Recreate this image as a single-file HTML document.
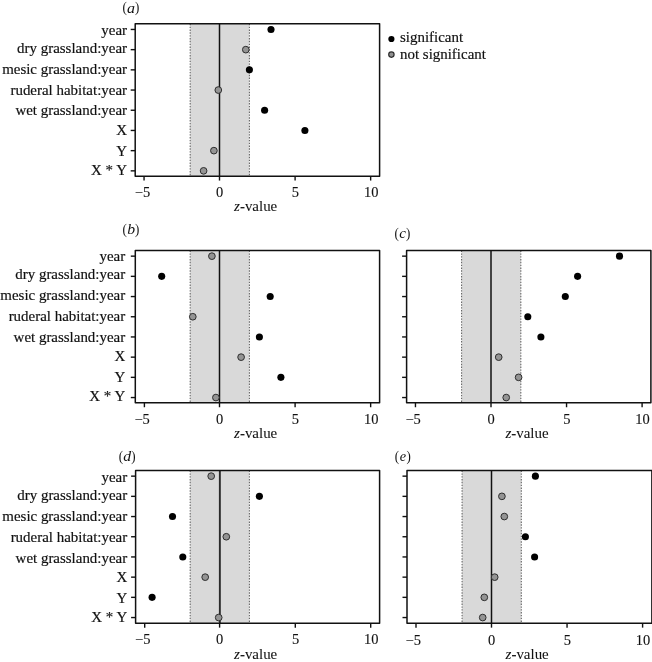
<!DOCTYPE html>
<html><head><meta charset="utf-8"><title>Figure</title>
<style>
html,body{margin:0;padding:0;background:#fff;}
svg{display:block;}
text{font-family:"Liberation Serif","Times New Roman",serif;font-size:14.95px;fill:#111;stroke:#111;stroke-width:0.18px;}
.it{font-style:italic;}
.ttl{font-size:14.3px;stroke-width:0.1px;}
.pr{font-size:13px;}
.num{font-size:14.2px;stroke-width:0.12px;}
</style></head><body>
<svg width="652" height="662" viewBox="0 0 652 662">
<rect width="652" height="662" fill="#fff"/>

<g id="panel-a">
<rect x="190.18" y="23.85" width="59.23" height="152.3" fill="#d9d9d9"/>
<line x1="190.18" y1="23.85" x2="190.18" y2="176.15" stroke="#666" stroke-width="1.1" stroke-dasharray="1.4 1.43"/>
<line x1="249.42" y1="23.85" x2="249.42" y2="176.15" stroke="#666" stroke-width="1.1" stroke-dasharray="1.4 1.43"/>
<line x1="219.50" y1="23.85" x2="219.50" y2="176.15" stroke="#111" stroke-width="1.5"/>
<line x1="130.70" y1="29.45" x2="135.2" y2="29.45" stroke="#111" stroke-width="1.4"/>
<text x="127.0" y="34.90" text-anchor="end">year</text>
<line x1="130.70" y1="49.65" x2="135.2" y2="49.65" stroke="#111" stroke-width="1.4"/>
<text x="127.0" y="53.00" text-anchor="end">dry grassland:year</text>
<line x1="130.70" y1="69.85" x2="135.2" y2="69.85" stroke="#111" stroke-width="1.4"/>
<text x="127.0" y="73.95" text-anchor="end">mesic grassland:year</text>
<line x1="130.70" y1="90.05" x2="135.2" y2="90.05" stroke="#111" stroke-width="1.4"/>
<text x="127.0" y="94.90" text-anchor="end">ruderal habitat:year</text>
<line x1="130.70" y1="110.25" x2="135.2" y2="110.25" stroke="#111" stroke-width="1.4"/>
<text x="127.0" y="115.45" text-anchor="end">wet grassland:year</text>
<line x1="130.70" y1="130.45" x2="135.2" y2="130.45" stroke="#111" stroke-width="1.4"/>
<text x="127.0" y="134.80" text-anchor="end">X</text>
<line x1="130.70" y1="150.65" x2="135.2" y2="150.65" stroke="#111" stroke-width="1.4"/>
<text x="127.0" y="155.50" text-anchor="end">Y</text>
<line x1="130.70" y1="170.85" x2="135.2" y2="170.85" stroke="#111" stroke-width="1.4"/>
<text x="127.0" y="175.35" text-anchor="end">X * Y</text>
<line x1="144.05" y1="176.15" x2="144.05" y2="180.55" stroke="#111" stroke-width="1.4"/>
<text class="num" transform="translate(142.45 197.15) scale(1.02 1)" text-anchor="middle">−5</text>
<line x1="219.50" y1="176.15" x2="219.50" y2="180.55" stroke="#111" stroke-width="1.4"/>
<text class="num" transform="translate(219.50 197.15) scale(1.02 1)" text-anchor="middle">0</text>
<line x1="295.10" y1="176.15" x2="295.10" y2="180.55" stroke="#111" stroke-width="1.4"/>
<text class="num" transform="translate(295.30 197.15) scale(1.02 1)" text-anchor="middle">5</text>
<line x1="370.65" y1="176.15" x2="370.65" y2="180.55" stroke="#111" stroke-width="1.4"/>
<text class="num" transform="translate(371.15 197.15) scale(1.02 1)" text-anchor="middle">10</text>
<text x="234.10" y="211.40" style="stroke-width:0.06px"><tspan class="it">z</tspan>-value</text>
<rect x="135.2" y="23.85" width="244.40" height="152.3" fill="none" stroke="#111" stroke-width="1.5" stroke-linejoin="round"/>
<circle cx="271.00" cy="29.45" r="3.55" fill="#000"/>
<circle cx="245.80" cy="49.65" r="3.35" fill="#949494" stroke="#2e2e2e" stroke-width="1"/>
<circle cx="249.40" cy="69.85" r="3.55" fill="#000"/>
<circle cx="218.30" cy="90.05" r="3.35" fill="#949494" stroke="#2e2e2e" stroke-width="1"/>
<circle cx="264.60" cy="110.25" r="3.55" fill="#000"/>
<circle cx="304.90" cy="130.45" r="3.55" fill="#000"/>
<circle cx="213.90" cy="150.65" r="3.35" fill="#949494" stroke="#2e2e2e" stroke-width="1"/>
<circle cx="203.60" cy="170.85" r="3.35" fill="#949494" stroke="#2e2e2e" stroke-width="1"/>
<text transform="translate(122.60 11.78) scale(1.0 1.095)" font-size="13" style="font-size:13px;stroke:none">(</text>
<text transform="translate(126.98 13.05) scale(1.12 1.0)" font-size="14.3" font-style="italic" style="font-size:14.3px;stroke:none">a</text>
<text transform="translate(134.97 11.84) scale(1.0 1.095)" font-size="13" style="font-size:13px;stroke:none">)</text>
</g>
<g id="panel-b">
<rect x="190.18" y="250.55" width="59.23" height="152.3" fill="#d9d9d9"/>
<line x1="190.18" y1="250.55" x2="190.18" y2="402.85" stroke="#666" stroke-width="1.1" stroke-dasharray="1.4 1.43"/>
<line x1="249.42" y1="250.55" x2="249.42" y2="402.85" stroke="#666" stroke-width="1.1" stroke-dasharray="1.4 1.43"/>
<line x1="219.50" y1="250.55" x2="219.50" y2="402.85" stroke="#111" stroke-width="1.5"/>
<line x1="130.80" y1="256.15" x2="135.3" y2="256.15" stroke="#111" stroke-width="1.4"/>
<text x="125.2" y="261.15" text-anchor="end">year</text>
<line x1="130.80" y1="276.35" x2="135.3" y2="276.35" stroke="#111" stroke-width="1.4"/>
<text x="125.2" y="279.15" text-anchor="end">dry grassland:year</text>
<line x1="130.80" y1="296.55" x2="135.3" y2="296.55" stroke="#111" stroke-width="1.4"/>
<text x="125.2" y="300.10" text-anchor="end">mesic grassland:year</text>
<line x1="130.80" y1="316.75" x2="135.3" y2="316.75" stroke="#111" stroke-width="1.4"/>
<text x="125.2" y="321.15" text-anchor="end">ruderal habitat:year</text>
<line x1="130.80" y1="336.95" x2="135.3" y2="336.95" stroke="#111" stroke-width="1.4"/>
<text x="125.2" y="341.70" text-anchor="end">wet grassland:year</text>
<line x1="130.80" y1="357.15" x2="135.3" y2="357.15" stroke="#111" stroke-width="1.4"/>
<text x="125.2" y="361.30" text-anchor="end">X</text>
<line x1="130.80" y1="377.35" x2="135.3" y2="377.35" stroke="#111" stroke-width="1.4"/>
<text x="125.2" y="381.75" text-anchor="end">Y</text>
<line x1="130.80" y1="397.55" x2="135.3" y2="397.55" stroke="#111" stroke-width="1.4"/>
<text x="125.2" y="400.85" text-anchor="end">X * Y</text>
<line x1="144.40" y1="402.85" x2="144.40" y2="407.25" stroke="#111" stroke-width="1.4"/>
<text class="num" transform="translate(142.10 423.85) scale(1.02 1)" text-anchor="middle">−5</text>
<line x1="219.50" y1="402.85" x2="219.50" y2="407.25" stroke="#111" stroke-width="1.4"/>
<text class="num" transform="translate(219.50 423.85) scale(1.02 1)" text-anchor="middle">0</text>
<line x1="295.10" y1="402.85" x2="295.10" y2="407.25" stroke="#111" stroke-width="1.4"/>
<text class="num" transform="translate(295.30 423.85) scale(1.02 1)" text-anchor="middle">5</text>
<line x1="370.65" y1="402.85" x2="370.65" y2="407.25" stroke="#111" stroke-width="1.4"/>
<text class="num" transform="translate(371.15 423.85) scale(1.02 1)" text-anchor="middle">10</text>
<text x="234.10" y="438.30" style="stroke-width:0.06px"><tspan class="it">z</tspan>-value</text>
<rect x="135.3" y="250.55" width="244.30" height="152.3" fill="none" stroke="#111" stroke-width="1.5" stroke-linejoin="round"/>
<circle cx="211.90" cy="256.15" r="3.35" fill="#949494" stroke="#2e2e2e" stroke-width="1"/>
<circle cx="161.70" cy="276.35" r="3.55" fill="#000"/>
<circle cx="270.20" cy="296.55" r="3.55" fill="#000"/>
<circle cx="192.80" cy="316.75" r="3.35" fill="#949494" stroke="#2e2e2e" stroke-width="1"/>
<circle cx="259.40" cy="336.95" r="3.55" fill="#000"/>
<circle cx="241.10" cy="357.15" r="3.35" fill="#949494" stroke="#2e2e2e" stroke-width="1"/>
<circle cx="280.90" cy="377.35" r="3.55" fill="#000"/>
<circle cx="215.90" cy="397.55" r="3.35" fill="#949494" stroke="#2e2e2e" stroke-width="1"/>
<text transform="translate(122.60 233.62) scale(1.0 1.095)" font-size="13" style="font-size:13px;stroke:none">(</text>
<text transform="translate(127.34 233.72) scale(1.1 1.0)" font-size="14.3" font-style="italic" style="font-size:14.3px;stroke:none">b</text>
<text transform="translate(134.97 233.69) scale(1.0 1.095)" font-size="13" style="font-size:13px;stroke:none">)</text>
</g>
<g id="panel-d">
<rect x="190.18" y="470.55" width="59.23" height="152.7" fill="#d9d9d9"/>
<line x1="190.18" y1="470.55" x2="190.18" y2="623.25" stroke="#666" stroke-width="1.1" stroke-dasharray="1.4 1.43"/>
<line x1="249.42" y1="470.55" x2="249.42" y2="623.25" stroke="#666" stroke-width="1.1" stroke-dasharray="1.4 1.43"/>
<line x1="219.85" y1="470.55" x2="219.85" y2="623.25" stroke="#2a2a2a" stroke-width="1.9"/>
<line x1="131.10" y1="476.15" x2="135.6" y2="476.15" stroke="#111" stroke-width="1.4"/>
<text x="127.2" y="482.25" text-anchor="end">year</text>
<line x1="131.10" y1="496.35" x2="135.6" y2="496.35" stroke="#111" stroke-width="1.4"/>
<text x="127.2" y="500.40" text-anchor="end">dry grassland:year</text>
<line x1="131.10" y1="516.55" x2="135.6" y2="516.55" stroke="#111" stroke-width="1.4"/>
<text x="127.2" y="521.45" text-anchor="end">mesic grassland:year</text>
<line x1="131.10" y1="536.75" x2="135.6" y2="536.75" stroke="#111" stroke-width="1.4"/>
<text x="127.2" y="542.00" text-anchor="end">ruderal habitat:year</text>
<line x1="131.10" y1="556.95" x2="135.6" y2="556.95" stroke="#111" stroke-width="1.4"/>
<text x="127.2" y="562.80" text-anchor="end">wet grassland:year</text>
<line x1="131.10" y1="577.15" x2="135.6" y2="577.15" stroke="#111" stroke-width="1.4"/>
<text x="127.2" y="582.40" text-anchor="end">X</text>
<line x1="131.10" y1="597.35" x2="135.6" y2="597.35" stroke="#111" stroke-width="1.4"/>
<text x="127.2" y="602.60" text-anchor="end">Y</text>
<line x1="131.10" y1="617.55" x2="135.6" y2="617.55" stroke="#111" stroke-width="1.4"/>
<text x="127.2" y="621.60" text-anchor="end">X * Y</text>
<line x1="144.70" y1="623.25" x2="144.70" y2="627.65" stroke="#111" stroke-width="1.4"/>
<text class="num" transform="translate(142.70 644.35) scale(1.02 1)" text-anchor="middle">−5</text>
<line x1="219.60" y1="623.25" x2="219.60" y2="627.65" stroke="#111" stroke-width="1.4"/>
<text class="num" transform="translate(219.60 644.35) scale(1.02 1)" text-anchor="middle">0</text>
<line x1="295.30" y1="623.25" x2="295.30" y2="627.65" stroke="#111" stroke-width="1.4"/>
<text class="num" transform="translate(295.50 644.35) scale(1.02 1)" text-anchor="middle">5</text>
<line x1="370.70" y1="623.25" x2="370.70" y2="627.65" stroke="#111" stroke-width="1.4"/>
<text class="num" transform="translate(371.20 644.35) scale(1.02 1)" text-anchor="middle">10</text>
<text x="234.10" y="658.60" style="stroke-width:0.06px"><tspan class="it">z</tspan>-value</text>
<rect x="135.6" y="470.55" width="244.00" height="152.7" fill="none" stroke="#111" stroke-width="1.5" stroke-linejoin="round"/>
<circle cx="211.20" cy="476.15" r="3.35" fill="#949494" stroke="#2e2e2e" stroke-width="1"/>
<circle cx="259.40" cy="496.35" r="3.55" fill="#000"/>
<circle cx="172.50" cy="516.55" r="3.55" fill="#000"/>
<circle cx="226.30" cy="536.75" r="3.35" fill="#949494" stroke="#2e2e2e" stroke-width="1"/>
<circle cx="182.80" cy="556.95" r="3.55" fill="#000"/>
<circle cx="205.20" cy="577.15" r="3.35" fill="#949494" stroke="#2e2e2e" stroke-width="1"/>
<circle cx="152.10" cy="597.35" r="3.55" fill="#000"/>
<circle cx="218.70" cy="617.55" r="3.35" fill="#949494" stroke="#2e2e2e" stroke-width="1"/>
<text transform="translate(118.70 460.57) scale(1.0 1.095)" font-size="13" style="font-size:13px;stroke:none">(</text>
<text transform="translate(123.31 460.85) scale(1.1 1.075)" font-size="14.3" font-style="italic" style="font-size:14.3px;stroke:none">d</text>
<text transform="translate(131.28 460.64) scale(1.0 1.095)" font-size="13" style="font-size:13px;stroke:none">)</text>
</g>
<g id="panel-c">
<rect x="461.58" y="250.55" width="59.23" height="152.3" fill="#d9d9d9"/>
<line x1="461.58" y1="250.55" x2="461.58" y2="402.85" stroke="#666" stroke-width="1.1" stroke-dasharray="1.4 1.43"/>
<line x1="520.82" y1="250.55" x2="520.82" y2="402.85" stroke="#666" stroke-width="1.1" stroke-dasharray="1.4 1.43"/>
<line x1="491.00" y1="250.55" x2="491.00" y2="402.85" stroke="#111" stroke-width="1.5"/>
<line x1="402.10" y1="256.15" x2="406.6" y2="256.15" stroke="#111" stroke-width="1.4"/>
<line x1="402.10" y1="276.35" x2="406.6" y2="276.35" stroke="#111" stroke-width="1.4"/>
<line x1="402.10" y1="296.55" x2="406.6" y2="296.55" stroke="#111" stroke-width="1.4"/>
<line x1="402.10" y1="316.75" x2="406.6" y2="316.75" stroke="#111" stroke-width="1.4"/>
<line x1="402.10" y1="336.95" x2="406.6" y2="336.95" stroke="#111" stroke-width="1.4"/>
<line x1="402.10" y1="357.15" x2="406.6" y2="357.15" stroke="#111" stroke-width="1.4"/>
<line x1="402.10" y1="377.35" x2="406.6" y2="377.35" stroke="#111" stroke-width="1.4"/>
<line x1="402.10" y1="397.55" x2="406.6" y2="397.55" stroke="#111" stroke-width="1.4"/>
<line x1="415.45" y1="402.85" x2="415.45" y2="407.25" stroke="#111" stroke-width="1.4"/>
<text class="num" transform="translate(413.15 423.85) scale(1.02 1)" text-anchor="middle">−5</text>
<line x1="491.00" y1="402.85" x2="491.00" y2="407.25" stroke="#111" stroke-width="1.4"/>
<text class="num" transform="translate(491.20 423.85) scale(1.02 1)" text-anchor="middle">0</text>
<line x1="566.55" y1="402.85" x2="566.55" y2="407.25" stroke="#111" stroke-width="1.4"/>
<text class="num" transform="translate(566.75 423.85) scale(1.02 1)" text-anchor="middle">5</text>
<line x1="642.10" y1="402.85" x2="642.10" y2="407.25" stroke="#111" stroke-width="1.4"/>
<text class="num" transform="translate(642.40 423.85) scale(1.02 1)" text-anchor="middle">10</text>
<text x="505.40" y="438.30" style="stroke-width:0.06px"><tspan class="it">z</tspan>-value</text>
<rect x="406.6" y="250.55" width="244.30" height="152.3" fill="none" stroke="#111" stroke-width="1.5" stroke-linejoin="round"/>
<circle cx="619.50" cy="256.15" r="3.55" fill="#000"/>
<circle cx="577.60" cy="276.35" r="3.55" fill="#000"/>
<circle cx="565.30" cy="296.55" r="3.55" fill="#000"/>
<circle cx="527.80" cy="316.75" r="3.55" fill="#000"/>
<circle cx="540.90" cy="336.95" r="3.55" fill="#000"/>
<circle cx="498.70" cy="357.15" r="3.35" fill="#949494" stroke="#2e2e2e" stroke-width="1"/>
<circle cx="518.60" cy="377.35" r="3.35" fill="#949494" stroke="#2e2e2e" stroke-width="1"/>
<circle cx="506.20" cy="397.55" r="3.35" fill="#949494" stroke="#2e2e2e" stroke-width="1"/>
<text transform="translate(394.60 237.82) scale(1.0 1.095)" font-size="13" style="font-size:13px;stroke:none">(</text>
<text transform="translate(399.14 238.32) scale(1.05 1.03)" font-size="14.3" font-style="italic" style="font-size:14.3px;stroke:none">c</text>
<text transform="translate(406.07 237.89) scale(1.0 1.095)" font-size="13" style="font-size:13px;stroke:none">)</text>
</g>
<g id="panel-e">
<rect x="462.08" y="470.55" width="59.23" height="152.7" fill="#d9d9d9"/>
<line x1="462.08" y1="470.55" x2="462.08" y2="623.25" stroke="#666" stroke-width="1.1" stroke-dasharray="1.4 1.43"/>
<line x1="521.32" y1="470.55" x2="521.32" y2="623.25" stroke="#666" stroke-width="1.1" stroke-dasharray="1.4 1.43"/>
<line x1="491.50" y1="470.55" x2="491.50" y2="623.25" stroke="#111" stroke-width="1.5"/>
<line x1="402.50" y1="476.15" x2="407.0" y2="476.15" stroke="#111" stroke-width="1.4"/>
<line x1="402.50" y1="496.35" x2="407.0" y2="496.35" stroke="#111" stroke-width="1.4"/>
<line x1="402.50" y1="516.55" x2="407.0" y2="516.55" stroke="#111" stroke-width="1.4"/>
<line x1="402.50" y1="536.75" x2="407.0" y2="536.75" stroke="#111" stroke-width="1.4"/>
<line x1="402.50" y1="556.95" x2="407.0" y2="556.95" stroke="#111" stroke-width="1.4"/>
<line x1="402.50" y1="577.15" x2="407.0" y2="577.15" stroke="#111" stroke-width="1.4"/>
<line x1="402.50" y1="597.35" x2="407.0" y2="597.35" stroke="#111" stroke-width="1.4"/>
<line x1="402.50" y1="617.55" x2="407.0" y2="617.55" stroke="#111" stroke-width="1.4"/>
<line x1="416.00" y1="623.25" x2="416.00" y2="627.65" stroke="#111" stroke-width="1.4"/>
<text class="num" transform="translate(413.30 644.55) scale(1.02 1)" text-anchor="middle">−5</text>
<line x1="491.50" y1="623.25" x2="491.50" y2="627.65" stroke="#111" stroke-width="1.4"/>
<text class="num" transform="translate(491.50 644.55) scale(1.02 1)" text-anchor="middle">0</text>
<line x1="567.05" y1="623.25" x2="567.05" y2="627.65" stroke="#111" stroke-width="1.4"/>
<text class="num" transform="translate(567.25 644.55) scale(1.02 1)" text-anchor="middle">5</text>
<line x1="642.60" y1="623.25" x2="642.60" y2="627.65" stroke="#111" stroke-width="1.4"/>
<text class="num" transform="translate(643.00 644.55) scale(1.02 1)" text-anchor="middle">10</text>
<text x="505.60" y="658.60" style="stroke-width:0.06px"><tspan class="it">z</tspan>-value</text>
<rect x="407.0" y="470.55" width="244.90" height="152.7" fill="none" stroke="#111" stroke-width="1.5" stroke-linejoin="round"/>
<circle cx="535.40" cy="476.15" r="3.55" fill="#000"/>
<circle cx="501.90" cy="496.35" r="3.35" fill="#949494" stroke="#2e2e2e" stroke-width="1"/>
<circle cx="504.30" cy="516.55" r="3.35" fill="#949494" stroke="#2e2e2e" stroke-width="1"/>
<circle cx="525.40" cy="536.75" r="3.55" fill="#000"/>
<circle cx="534.60" cy="556.95" r="3.55" fill="#000"/>
<circle cx="494.70" cy="577.15" r="3.35" fill="#949494" stroke="#2e2e2e" stroke-width="1"/>
<circle cx="484.30" cy="597.35" r="3.35" fill="#949494" stroke="#2e2e2e" stroke-width="1"/>
<circle cx="482.70" cy="617.55" r="3.35" fill="#949494" stroke="#2e2e2e" stroke-width="1"/>
<text transform="translate(394.75 460.57) scale(1.0 1.095)" font-size="13" style="font-size:13px;stroke:none">(</text>
<text transform="translate(399.75 460.80) scale(1.0 1.07)" font-size="14.3" font-style="italic" style="font-size:14.3px;stroke:none">e</text>
<text transform="translate(406.57 460.64) scale(1.0 1.095)" font-size="13" style="font-size:13px;stroke:none">)</text>
</g>
<circle cx="391.4" cy="39" r="3.1" fill="#000"/>
<circle cx="391.4" cy="54.6" r="2.7" fill="#909090" stroke="#2a2a2a" stroke-width="1.15"/>
<text x="400" y="42.1">significant</text>
<text x="400" y="58.7">not significant</text>
</svg></body></html>
